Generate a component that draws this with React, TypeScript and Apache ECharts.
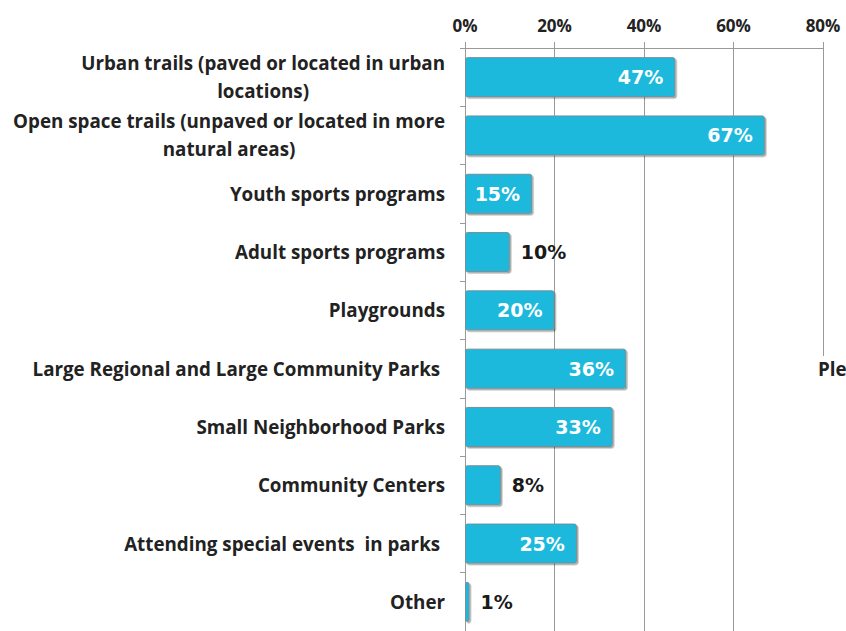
import React, { useEffect, useRef } from "react";
import * as echarts from "echarts";

const categories = [
  "Urban trails (paved or located in urban\nlocations)",
  "Open space trails (unpaved or located in more\nnatural areas)",
  "Youth sports programs",
  "Adult sports programs",
  "Playgrounds",
  "Large Regional and Large Community Parks ",
  "Small Neighborhood Parks",
  "Community Centers",
  "Attending special events  in parks ",
  "Other",
];
const values = [47, 67, 15, 10, 20, 36, 33, 8, 25, 1];
const insideLabelMin = 12;
const xMin = 0;
const xMax = 80;
const xInterval = 20;
const cutText = "Ple";

const BAR = "#1bb9dd";
const GRID = "#9a9a9a";
const TEXT = "#222222";
const FONT = "Open Sans";

export default function App() {
  const ref = useRef<HTMLDivElement>(null);
  useEffect(() => {
    if (!ref.current) return;
    const chart = echarts.init(ref.current, undefined, { renderer: "svg" });
    chart.setOption({
      animation: false,
      backgroundColor: "#ffffff",
      grid: { left: 465, right: 23, top: 48, bottom: -4, containLabel: false },
      xAxis: {
        type: "value",
        position: "top",
        min: xMin,
        max: xMax,
        interval: xInterval,
        axisLine: { show: true, lineStyle: { color: GRID, width: 1 } },
        axisTick: { show: true, length: 6, lineStyle: { color: GRID } },
        splitLine: { show: true, lineStyle: { color: GRID, width: 1 } },
        axisLabel: {
          formatter: "{value}%",
          fontFamily: FONT,
          fontWeight: "bold",
          fontSize: 17,
          color: TEXT,
          margin: 14,
        },
      },
      yAxis: {
        type: "category",
        inverse: true,
        data: categories,
        axisLine: { show: true, lineStyle: { color: GRID, width: 1 } },
        axisTick: { show: true, length: 5, lineStyle: { color: GRID } },
        splitLine: { show: false },
        axisLabel: {
          margin: 20,
          formatter: (v: string) =>
            v
              .split("\n")
              .map((l) => `{c|${l}}`)
              .join("\n"),
          rich: {
            c: {
              fontFamily: FONT,
              fontWeight: "bold",
              fontSize: 18.8,
              color: TEXT,
              align: "center",
              lineHeight: 28,
            },
          },
        },
      },
      series: [
        {
          type: "bar",
          barWidth: 40,
          data: values.map((v) => ({
            value: v,
            label:
              v < insideLabelMin
                ? { position: "right", color: "#1a1a1a", distance: 11 }
                : { position: "insideRight", color: "#ffffff", distance: 12 },
          })),
          itemStyle: {
            color: BAR,
            borderColor: "#74909a",
            borderWidth: 1,
            borderRadius: 2,
            shadowColor: "rgba(0,0,0,0.35)",
            shadowOffsetX: 1.5,
            shadowOffsetY: 1.5,
            shadowBlur: 1,
          },
          label: {
            show: true,
            formatter: "{c}%",
            fontFamily: "DejaVu Sans",
            fontWeight: "bold",
            fontSize: 19,
          },
        },
      ],
      graphic: [
        {
          type: "rect",
          z: 100,
          left: 819,
          top: 356,
          shape: { width: 8, height: 280 },
          style: { fill: "#ffffff" },
        },
        {
          type: "text",
          z: 101,
          left: 818,
          top: 359,
          style: {
            text: cutText,
            fontFamily: FONT,
            fontWeight: "bold",
            fontSize: 18.8,
            fill: TEXT,
          },
        },
      ],
    });
    return () => chart.dispose();
  }, []);
  return (
    <div
      ref={ref}
      style={{ position: "fixed", left: 0, top: 0, width: 846, height: 631 }}
    />
  );
}
